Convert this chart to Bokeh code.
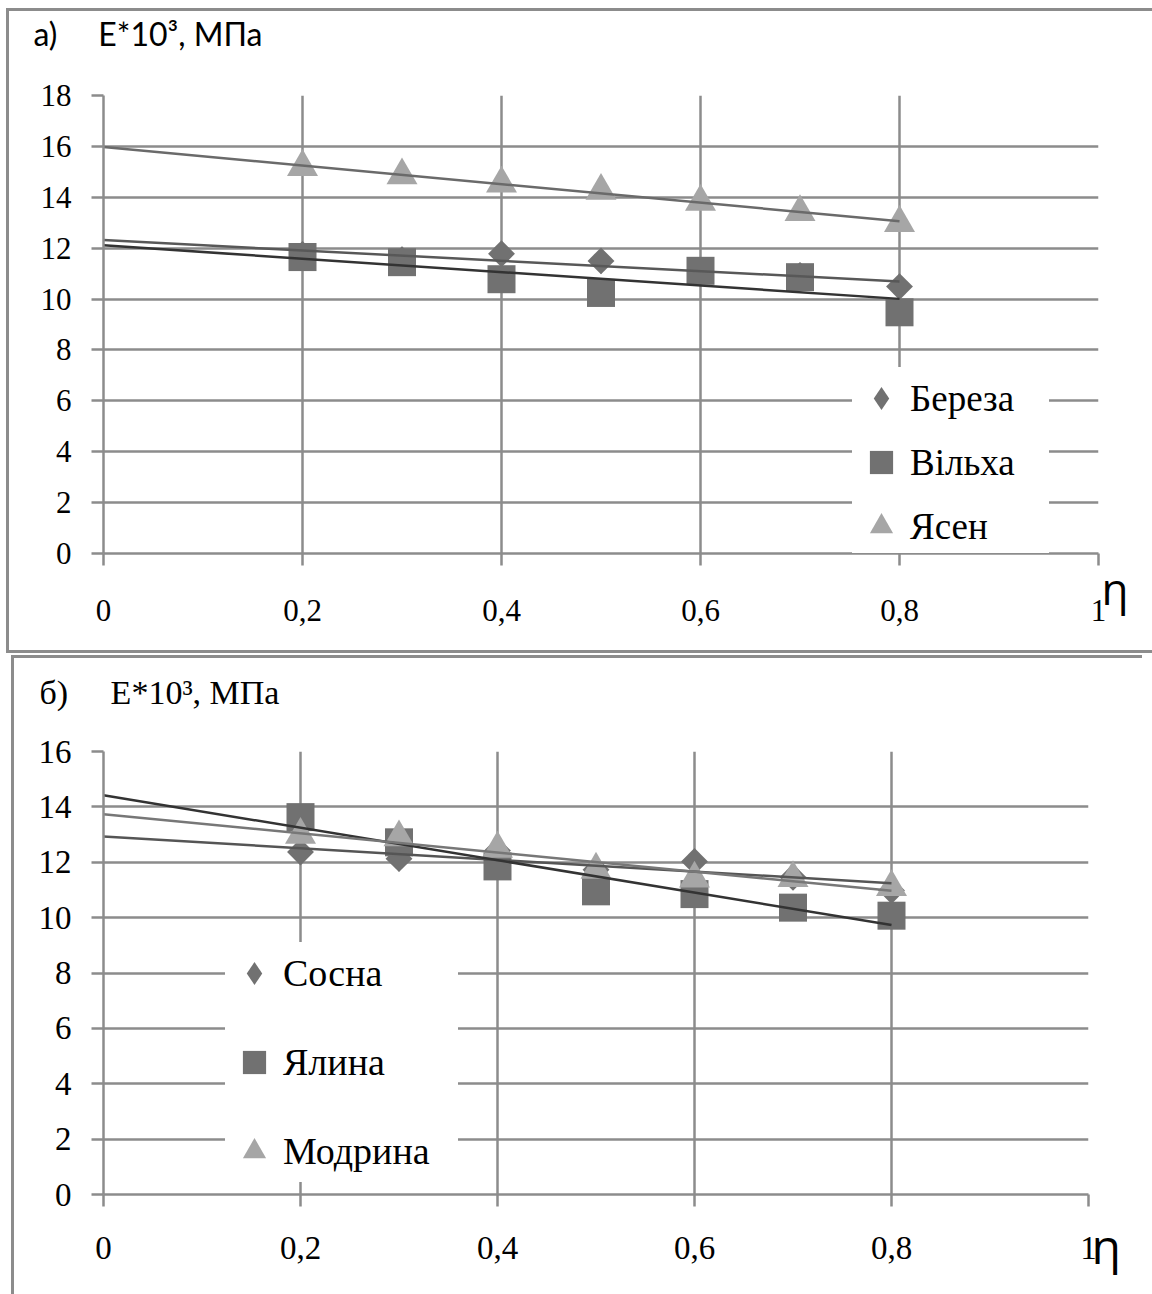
import numpy as np
from bokeh.plotting import figure
from bokeh.layouts import column
from bokeh.models import (Range1d, FixedTicker, CustomJSTickFormatter, Legend, LegendItem,
                          LinearAxis, Title, Styles)
from bokeh.embed import file_html
from bokeh.resources import INLINE

# ---------------- data ----------------
eta = [0.2, 0.3, 0.4, 0.5, 0.6, 0.7, 0.8]

# panel a)
bereza = [11.75, 11.55, 11.78, 11.50, 11.10, 10.93, 10.49]
vilkha = [11.65, 11.45, 10.78, 10.24, 11.11, 10.86, 9.48]
yasen = [15.19, 14.86, 14.54, 14.25, 13.82, 13.42, 12.99]

# panel б)
sosna = [12.37, 12.13, 12.42, 11.73, 12.03, 11.46, 10.98]
yalyna = [13.63, 12.72, 11.85, 10.95, 10.85, 10.36, 10.07]
modryna = [12.99, 12.90, 12.49, 11.73, 11.41, 11.43, 11.10]

labels_a = ["Береза", "Вільха", "Ясен"]
labels_b = ["Сосна", "Ялина", "Модрина"]

x_ticks = [0, 0.2, 0.4, 0.6, 0.8, 1.0]
y_ticks_a = [0, 2, 4, 6, 8, 10, 12, 14, 16, 18]
y_ticks_b = [0, 2, 4, 6, 8, 10, 12, 14, 16]

title_prefix_a = "а)"
title_prefix_b = "б)"
y_title = "E*10³, МПа"
x_title = "η"

# ---------------- style ----------------
GRID = "#8c8c8c"
MARK = "#717171"
LIGHT = "#a6a6a6"
SERIF = "Liberation Serif"
NBSP = "\u00a0"

fmt_code = """
if (Math.abs(tick) < 1e-9) { return "0"; }
if (Math.abs(tick - 1) < 1e-9) { return "1"; }
return tick.toFixed(1).replace(".", ",");
"""

# panel frames drawn with inset shadows (white strips on top of grey strips)
frame_a = Styles(box_shadow=", ".join([
    "inset 6px 0 0 0 white", "inset 0 8px 0 0 white", "inset 0 -2px 0 0 white",
    f"inset 9px 0 0 0 {GRID}", f"inset 0 11px 0 0 {GRID}", f"inset 0 -5px 0 0 {GRID}"]))
frame_b = Styles(box_shadow=", ".join([
    "inset 11px 0 0 0 white", f"inset 14px 0 0 0 {GRID}", f"inset 0 3px 0 0 {GRID}"]))


def base_fig(width, height, top, bottom, right, ymax, yticks, tick_font, x_standoff):
    p = figure(width=width, height=height, x_range=Range1d(0, 1), y_range=Range1d(0, ymax),
               output_backend="svg", toolbar_location=None,
               min_border_left=103, min_border_right=right,
               min_border_top=top, min_border_bottom=bottom)
    p.title.text = ""
    p.outline_line_color = None
    p.background_fill_color = "white"
    p.border_fill_color = None
    p.xaxis.ticker = FixedTicker(ticks=x_ticks)
    p.yaxis.ticker = FixedTicker(ticks=yticks)
    p.xaxis.formatter = CustomJSTickFormatter(code=fmt_code)
    for ax in (p.xaxis[0], p.yaxis[0]):
        ax.axis_line_color = GRID
        ax.axis_line_width = 2.5
        ax.major_tick_line_color = GRID
        ax.major_tick_line_width = 2.5
        ax.major_tick_out = 12
        ax.major_tick_in = 0
        ax.minor_tick_line_color = None
        ax.major_label_text_font = SERIF
        ax.major_label_text_font_size = tick_font
        ax.major_label_text_color = "black"
    p.xaxis.major_label_standoff = x_standoff
    p.yaxis.major_label_standoff = 20
    p.xgrid.grid_line_color = GRID
    p.ygrid.grid_line_color = GRID
    p.xgrid.grid_line_width = 2.5
    p.ygrid.grid_line_width = 2.5
    return p


def add_titles(p, prefix, nb, font, size, offset, spacer, eta_size, eta_lh):
    # blank title used as a spacer between the frame and the panel title
    p.add_layout(Title(text=NBSP, text_font_size="10px", standoff=spacer), "above")
    p.add_layout(Title(text=prefix + NBSP * nb + y_title, align="left", offset=offset,
                       text_font=font, text_font_size=size, text_font_style="normal",
                       text_color="black", standoff=0, vertical_align="bottom"), "above")
    # η next to the x axis end, as the label of a bare right axis
    p.add_layout(LinearAxis(ticker=FixedTicker(ticks=[0]),
                            formatter=CustomJSTickFormatter(code='return "\\n%s";' % x_title),
                            axis_line_color=None, major_tick_line_color=None,
                            minor_tick_line_color=None, major_tick_out=0, major_tick_in=0,
                            major_label_standoff=3, major_label_text_font="Open Sans",
                            major_label_text_font_size=eta_size, major_label_text_color="black",
                            major_label_text_line_height=eta_lh),
                 "right")


def add_series(p, s1, s2, s3, c1, c2, c3):
    r1 = p.scatter(eta, s1, marker="diamond", size=26, fill_color=MARK, line_color=None)
    p.scatter(eta, s1, marker="square", angle=np.pi / 4, size=19, fill_color=MARK, line_color=None)
    r2 = p.scatter(eta, s2, marker="square", size=28, fill_color=MARK, line_color=None)
    r3 = p.scatter(eta, s3, marker="triangle", size=31, fill_color=LIGHT, line_color=None)
    # linear trend lines computed from the data
    for vals, col in ((s1, c1), (s2, c2), (s3, c3)):
        k, b = np.polyfit(eta, vals, 1)
        xs = np.array([0.0, eta[-1]])
        p.line(xs, b + k * xs, line_color=col, line_width=2.5)
    return r1, r2, r3


def add_legend(p, rends, labels, loc, spacing, font, label_w):
    leg = Legend(items=[LegendItem(label=l, renderers=[r]) for l, r in zip(labels, rends)],
                 location=loc, glyph_width=58, glyph_height=62, label_standoff=0,
                 label_width=label_w, spacing=spacing, padding=0, margin=0,
                 label_text_font=SERIF, label_text_font_size=font, label_text_color="black",
                 background_fill_color="white", background_fill_alpha=1.0,
                 border_line_color=None)
    p.add_layout(leg)


# ---------------- panel a) ----------------
pa = base_fig(1152, 655, 95, 102, 54, 18, y_ticks_a, "31px", 34)
ra = add_series(pa, bereza, vilkha, yasen, "#585858", "#333333", "#6a6a6a")
add_legend(pa, ra, labels_a, (749, -4), 2, "37px", 139)
add_titles(pa, title_prefix_a, 5, "Lato", "32px", -70, 30, "44px", 1.15)

# ---------------- panel б) ----------------
pb = base_fig(1142, 639, 96, 100, 54, 16, y_ticks_b, "33px", 30)
rb = add_series(pb, sosna, yalyna, modryna, "#555555", "#333333", "#777777")
add_legend(pb, rb, labels_b, (122, 12), 27, "38px", 175)
add_titles(pb, title_prefix_b, 5, SERIF, "34px", -64, 28, "48px", 2.6)

layout = column(column(pa, styles=frame_a), column(pb, styles=frame_b), spacing=0)
open("out.html", "w").write(file_html(layout, INLINE))
